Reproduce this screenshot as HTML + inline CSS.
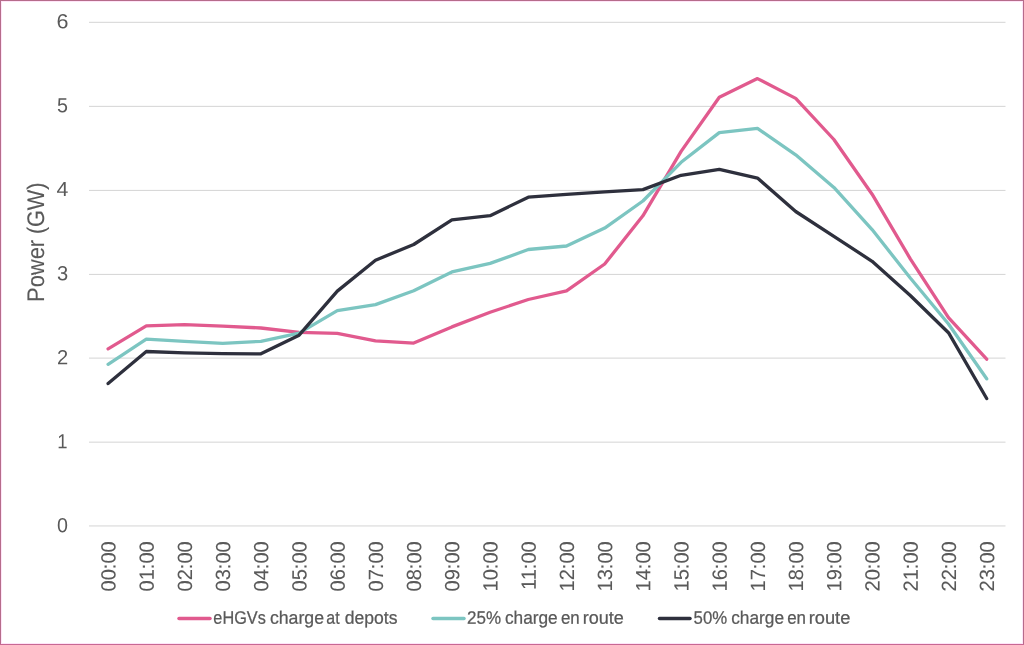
<!DOCTYPE html>
<html><head><meta charset="utf-8"><title>chart</title>
<style>
html,body{margin:0;padding:0;background:#fff;}
body{width:1024px;height:645px;overflow:hidden;font-family:"Liberation Sans",sans-serif;}
svg{display:block;font-family:"Liberation Sans",sans-serif;}
text{text-rendering:geometricPrecision;}
.t{filter:grayscale(1);}
</style></head><body>
<svg width="1024" height="645" viewBox="0 0 1024 645">
<rect x="0" y="0" width="1024" height="645" fill="#ffffff"/>

<g stroke="#D4D4D4" stroke-width="1">
<line x1="89" y1="22.30" x2="1005.5" y2="22.30"/>
<line x1="89" y1="106.35" x2="1005.5" y2="106.35"/>
<line x1="89" y1="190.40" x2="1005.5" y2="190.40"/>
<line x1="89" y1="274.40" x2="1005.5" y2="274.40"/>
<line x1="89" y1="358.10" x2="1005.5" y2="358.10"/>
<line x1="89" y1="442.15" x2="1005.5" y2="442.15"/>
<line x1="89" y1="525.95" x2="1005.5" y2="525.95"/>
</g>
<g class="t" fill="#595959" font-size="20.5" text-anchor="middle">
<text transform="translate(62.5,28.20) rotate(0.05) scale(1.05,1)">6</text>
<text transform="translate(62.5,112.20) rotate(0.05) scale(0.96,1)">5</text>
<text transform="translate(62.5,195.97) rotate(0.05) scale(1.04,1)">4</text>
<text transform="translate(62.5,280.36) rotate(0.05) scale(0.98,1)">3</text>
<text transform="translate(62.5,364.35) rotate(0.05) scale(0.98,1)">2</text>
<text transform="translate(62.5,448.13) rotate(0.05) scale(0.9,1)">1</text>
<text transform="translate(62.5,532.27) rotate(0.05) scale(0.96,1)">0</text>
</g>
<g class="t" fill="#595959" font-size="24" stroke="#595959" stroke-width="0.1" transform="translate(44.0,300.3) rotate(-89.95)">
<text x="-1.62" y="0" textLength="62.04" lengthAdjust="spacingAndGlyphs">Power</text>
<text x="66.23" y="0" textLength="51.42" lengthAdjust="spacingAndGlyphs">(GW)</text>
</g>
<g class="t" fill="#595959" font-size="20.6" text-anchor="end" stroke="#595959" stroke-width="0.08">
<text transform="translate(115.55,541.2) rotate(-89.95) scale(0.977,1)">00:00</text>
<text transform="translate(153.75,541.2) rotate(-89.95) scale(0.977,1)">01:00</text>
<text transform="translate(191.95,541.2) rotate(-89.95) scale(0.977,1)">02:00</text>
<text transform="translate(230.15,541.2) rotate(-89.95) scale(0.977,1)">03:00</text>
<text transform="translate(268.35,541.2) rotate(-89.95) scale(0.977,1)">04:00</text>
<text transform="translate(306.55,541.2) rotate(-89.95) scale(0.977,1)">05:00</text>
<text transform="translate(344.75,541.2) rotate(-89.95) scale(0.977,1)">06:00</text>
<text transform="translate(382.95,541.2) rotate(-89.95) scale(0.977,1)">07:00</text>
<text transform="translate(421.15,541.2) rotate(-89.95) scale(0.977,1)">08:00</text>
<text transform="translate(459.35,541.2) rotate(-89.95) scale(0.977,1)">09:00</text>
<text transform="translate(497.55,541.2) rotate(-89.95) scale(0.977,1)">10:00</text>
<text transform="translate(535.75,541.2) rotate(-89.95) scale(0.977,1)">11:00</text>
<text transform="translate(573.95,541.2) rotate(-89.95) scale(0.977,1)">12:00</text>
<text transform="translate(612.15,541.2) rotate(-89.95) scale(0.977,1)">13:00</text>
<text transform="translate(650.35,541.2) rotate(-89.95) scale(0.977,1)">14:00</text>
<text transform="translate(688.55,541.2) rotate(-89.95) scale(0.977,1)">15:00</text>
<text transform="translate(726.75,541.2) rotate(-89.95) scale(0.977,1)">16:00</text>
<text transform="translate(764.95,541.2) rotate(-89.95) scale(0.977,1)">17:00</text>
<text transform="translate(803.15,541.2) rotate(-89.95) scale(0.977,1)">18:00</text>
<text transform="translate(841.35,541.2) rotate(-89.95) scale(0.977,1)">19:00</text>
<text transform="translate(879.55,541.2) rotate(-89.95) scale(0.977,1)">20:00</text>
<text transform="translate(917.75,541.2) rotate(-89.95) scale(0.977,1)">21:00</text>
<text transform="translate(955.95,541.2) rotate(-89.95) scale(0.977,1)">22:00</text>
<text transform="translate(994.15,541.2) rotate(-89.95) scale(0.977,1)">23:00</text>
</g>
<g fill="none" stroke-width="3.3" stroke-linecap="round" stroke-linejoin="round">
<polyline stroke="#E15A8E" points="108.1,348.8 146.3,325.8 184.5,324.7 222.7,326.2 260.9,328.0 299.1,332.4 337.3,333.3 375.5,340.8 413.7,343.1 451.9,326.9 490.1,312.3 528.3,299.5 566.5,290.9 604.7,264.0 642.9,215.8 681.1,151.4 719.3,97.2 757.5,78.6 795.7,98.4 833.9,139.5 872.1,194.2 910.3,258.8 948.5,317.7 986.7,359.2"/>
<polyline stroke="#7CC5C1" points="108.1,364.3 146.3,339.1 184.5,341.4 222.7,343.3 260.9,341.3 299.1,333.1 337.3,310.6 375.5,304.6 413.7,290.7 451.9,271.9 490.1,263.4 528.3,249.5 566.5,246.0 604.7,228.1 642.9,201.0 681.1,162.3 719.3,132.6 757.5,128.4 795.7,154.8 833.9,187.4 872.1,229.6 910.3,278.0 948.5,324.0 986.7,378.8"/>
<polyline stroke="#2E303D" points="108.1,383.6 146.3,351.5 184.5,352.9 222.7,353.7 260.9,353.8 299.1,335.2 337.3,291.1 375.5,260.2 413.7,244.5 451.9,219.8 490.1,215.7 528.3,197.2 566.5,194.4 604.7,191.9 642.9,189.6 681.1,175.3 719.3,169.3 757.5,178.1 795.7,211.5 833.9,236.3 872.1,261.3 910.3,295.5 948.5,332.7 986.7,398.5"/>
</g>
<g stroke-width="3.5" stroke-linecap="round">
<line x1="179" y1="618.6" x2="210" y2="618.6" stroke="#E15A8E"/>
<line x1="433" y1="618.6" x2="464" y2="618.6" stroke="#7CC5C1"/>
<line x1="659.5" y1="618.6" x2="690" y2="618.6" stroke="#2E303D"/>
</g>
<g class="t" fill="#595959" font-size="18" stroke="#595959" stroke-width="0.25">
<text transform="translate(213.35,623.7) rotate(0.05)" textLength="52.44" lengthAdjust="spacingAndGlyphs">eHGVs</text>
<text transform="translate(269.88,623.7) rotate(0.05)" textLength="54.12" lengthAdjust="spacingAndGlyphs">charge</text>
<text transform="translate(326.28,623.7) rotate(0.05)" textLength="13.27" lengthAdjust="spacingAndGlyphs">at</text>
<text transform="translate(344.74,623.7) rotate(0.05)" textLength="52.74" lengthAdjust="spacingAndGlyphs">depots</text>
<text transform="translate(467.02,623.7) rotate(0.05)" textLength="34.02" lengthAdjust="spacingAndGlyphs">25%</text>
<text transform="translate(504.94,623.7) rotate(0.05)" textLength="52.79" lengthAdjust="spacingAndGlyphs">charge</text>
<text transform="translate(560.88,623.7) rotate(0.05)" textLength="18.77" lengthAdjust="spacingAndGlyphs">en</text>
<text transform="translate(582.69,623.7) rotate(0.05)" textLength="41.10" lengthAdjust="spacingAndGlyphs">route</text>
<text transform="translate(693.60,623.7) rotate(0.05)" textLength="33.58" lengthAdjust="spacingAndGlyphs">50%</text>
<text transform="translate(731.18,623.7) rotate(0.05)" textLength="52.86" lengthAdjust="spacingAndGlyphs">charge</text>
<text transform="translate(787.20,623.7) rotate(0.05)" textLength="18.82" lengthAdjust="spacingAndGlyphs">en</text>
<text transform="translate(808.65,623.7) rotate(0.05)" textLength="41.65" lengthAdjust="spacingAndGlyphs">route</text>
</g>
<rect x="1.5" y="1.5" width="1021" height="642" fill="none" stroke="#FFE4F8" stroke-width="1"/>
<rect x="0.5" y="0.5" width="1023" height="644" fill="none" stroke="#B66C8B" stroke-width="1"/>
<rect x="0" y="644" width="1024" height="1" fill="#C86894"/>
</svg></body></html>
